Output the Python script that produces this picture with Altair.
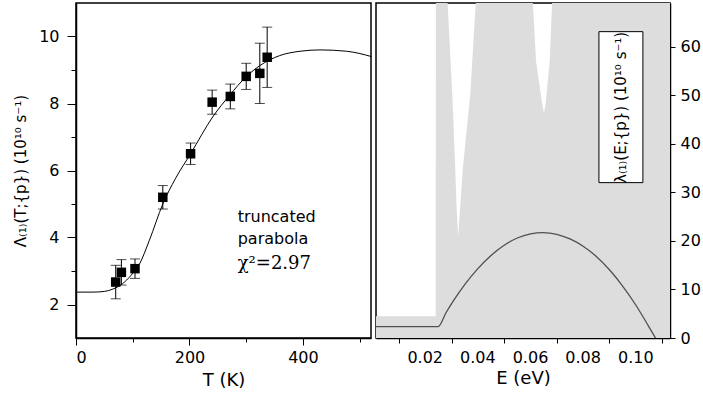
import altair as alt
import pandas as pd

# ---- left panel: measured points with error bars and truncated-parabola fit
T_meas = [70, 80, 104, 153, 202, 240, 272, 300, 324, 337]
L_meas = [2.67, 2.96, 3.07, 5.2, 6.5, 8.04, 8.21, 8.81, 8.9, 9.38]
L_err = [0.5, 0.38, 0.29, 0.35, 0.32, 0.36, 0.37, 0.39, 0.9, 0.9]

T_fit = [0, 30, 50, 65, 82, 97, 112, 129, 153, 175, 202, 241, 271, 300, 324, 359, 395, 430, 477, 521]
L_fit = [2.37, 2.37, 2.39, 2.46, 2.62, 2.87, 3.21, 3.9, 5.0, 5.75, 6.5, 7.6, 8.25, 8.8, 9.13, 9.43, 9.56, 9.6, 9.56, 9.4]

# ---- right panel: grey band upper bound and truncated parabola
E_band = [0.0013, 0.0240, 0.02405, 0.0285, 0.0303, 0.0314, 0.0319, 0.0325, 0.0333, 0.0343, 0.0371, 0.0392,
          0.0400, 0.0595, 0.0609, 0.0621, 0.0645, 0.0651, 0.0657, 0.0673, 0.0682, 0.0695, 0.1130]
lam_band = [4.5, 4.5, 80, 69, 50, 35, 27, 21, 27, 35, 50, 69,
            80, 80, 69, 57, 48, 46.4, 48, 57, 69, 80, 80]

E_par = [0.0013, 0.0249, 0.028, 0.031, 0.035, 0.040, 0.045, 0.050, 0.055, 0.060, 0.0648,
         0.070, 0.075, 0.080, 0.085, 0.090, 0.095, 0.100, 0.105, 0.1075]
lam_par = [2.33, 2.33, 5.3, 7.9, 11.0, 14.3, 17.0, 19.1, 20.6, 21.45, 21.7,
           21.35, 20.4, 18.9, 16.8, 14.05, 10.7, 6.8, 2.3, 0.0]

left_x_ticks = [0, 100, 200, 300, 400, 500]
left_y_ticks = [2, 3, 4, 5, 6, 7, 8, 9, 10]
right_x_ticks = [0.01, 0.02, 0.03, 0.04, 0.05, 0.06, 0.07, 0.08, 0.09, 0.10, 0.11]
right_x_label_vals = [0.02, 0.04, 0.06, 0.08, 0.10]
right_x_label_txt = ["0.02", "0.04", "0.06", "0.08", "0.10"]
right_y_ticks = [0, 10, 20, 30, 40, 50, 60]

FONT = "DejaVu Sans"

meas = pd.DataFrame({"T": T_meas, "L": L_meas, "err": L_err})
fit = pd.DataFrame({"T": T_fit, "L": L_fit})
band = pd.DataFrame({"E": E_band, "lam": lam_band})
par = pd.DataFrame({"E": E_par, "lam": lam_par})
elabels = pd.DataFrame({"E": right_x_label_vals, "txt": right_x_label_txt})

W1, W2, H = 295, 294, 335

xT = alt.X("T:Q", scale=alt.Scale(domain=[0, 520], nice=False),
           axis=alt.Axis(values=left_x_ticks, title="T (K)", labelOverlap=False,
                         labelExpr="datum.value % 200 == 0 ? datum.label : ''",
                         tickSize={"condition": {"test": "datum.value % 200 == 0", "value": 7}, "value": 4},
                         labelPadding=4, titlePadding=6))
yL_scale = alt.Scale(domain=[1, 11], nice=False)
yL_axis = alt.Axis(values=left_y_ticks, title="Λ₍₁₎(T;{p}) (10¹⁰ s⁻¹)", labelOverlap=False,
                   labelExpr="datum.value % 2 == 0 ? datum.label : ''",
                   tickSize={"condition": {"test": "datum.value % 2 == 0", "value": 9}, "value": 5},
                   labelPadding=8, titlePadding=10, titleFontSize=15)

base_m = alt.Chart(meas).transform_calculate(lo="datum.L - datum.err", hi="datum.L + datum.err")

fit_line = alt.Chart(fit).mark_line(color="black", strokeWidth=1, interpolate="monotone").encode(
    x=xT, y=alt.Y("L:Q", scale=yL_scale, axis=yL_axis))
bars = base_m.mark_rule(color="black", strokeWidth=1).encode(x="T:Q", y="lo:Q", y2="hi:Q")
cap_lo = base_m.mark_tick(color="black", orient="horizontal", size=10, thickness=1).encode(x="T:Q", y="lo:Q")
cap_hi = base_m.mark_tick(color="black", orient="horizontal", size=10, thickness=1).encode(x="T:Q", y="hi:Q")
squares = base_m.mark_square(color="black", size=90, opacity=1).encode(x="T:Q", y="L:Q")

notes = pd.DataFrame({"T": [285, 285], "L": [4.45, 3.82], "txt": ["truncated", "parabola"]})
note_text = alt.Chart(notes).mark_text(align="left", baseline="alphabetic", font=FONT, fontSize=16,
                                       color="black").encode(x="T:Q", y="L:Q", text="txt:N")
chi = pd.DataFrame({"T": [285], "L": [3.07], "txt": ["χ²=2.97"]})
chi_text = alt.Chart(chi).mark_text(align="left", baseline="alphabetic", font="DejaVu Serif", fontSize=18,
                                    color="black").encode(x="T:Q", y="L:Q", text="txt:N")

left = alt.layer(fit_line, bars, cap_lo, cap_hi, squares, note_text, chi_text).properties(width=W1, height=H)

xE = alt.X("E:Q", scale=alt.Scale(domain=[0.0013, 0.113], nice=False, zero=False),
           axis=alt.Axis(values=right_x_ticks, title="E (eV)", labelOverlap=False,
                         labelExpr="''", tickSize=5, labelPadding=4, titlePadding=6))
yE_scale = alt.Scale(domain=[0, 69], nice=False)
yE_axis = alt.Axis(values=right_y_ticks, orient="right", title=None, tickSize=5, labelPadding=5)

area = alt.Chart(band).mark_area(color="#dddddd", clip=True, opacity=1).encode(
    x=xE, y=alt.Y("lam:Q", scale=yE_scale, axis=yE_axis))
pline = alt.Chart(par).mark_line(color="#505050", strokeWidth=1.3, interpolate="monotone", clip=True).encode(
    x="E:Q", y="lam:Q")
box_df = pd.DataFrame({"E": [0.0860], "E2": [0.1027], "y": [32.0], "y2": [63.1]})
box = alt.Chart(box_df).mark_rect(fill="white", stroke="black", strokeWidth=1).encode(
    x="E:Q", x2="E2:Q", y="y:Q", y2="y2:Q")
lab_df = pd.DataFrame({"E": [0.0944], "y": [47.5], "txt": ["λ₍₁₎(E;{p}) (10¹⁰ s⁻¹)"]})
lab = alt.Chart(lab_df).mark_text(angle=270, font=FONT, fontSize=15, color="black",
                                  align="center", baseline="middle").encode(x="E:Q", y="y:Q", text="txt:N")
tick_labels = alt.Chart(elabels).mark_text(font=FONT, fontSize=16, color="black", align="center",
                                           baseline="middle").encode(
    x="E:Q", y=alt.value(H + 20), text="txt:N")

right = alt.layer(area, pline, box, lab, tick_labels).properties(width=W2, height=H)

chart = alt.hconcat(left, right, spacing=0).properties(
    padding={"left": 12, "top": 2, "right": 0, "bottom": 0}, background="white"
).configure_view(stroke="black", strokeWidth=1.5).configure_axis(
    labelFont=FONT, titleFont=FONT, labelFontSize=16, titleFontSize=18, titleFontWeight="normal",
    labelColor="black", titleColor="black", domainColor="black", tickColor="black", grid=False,
    domainWidth=1.5, tickWidth=1, labelOverlap=False
)

chart.save("out.html", embed_options={"renderer": "svg", "actions": False})
